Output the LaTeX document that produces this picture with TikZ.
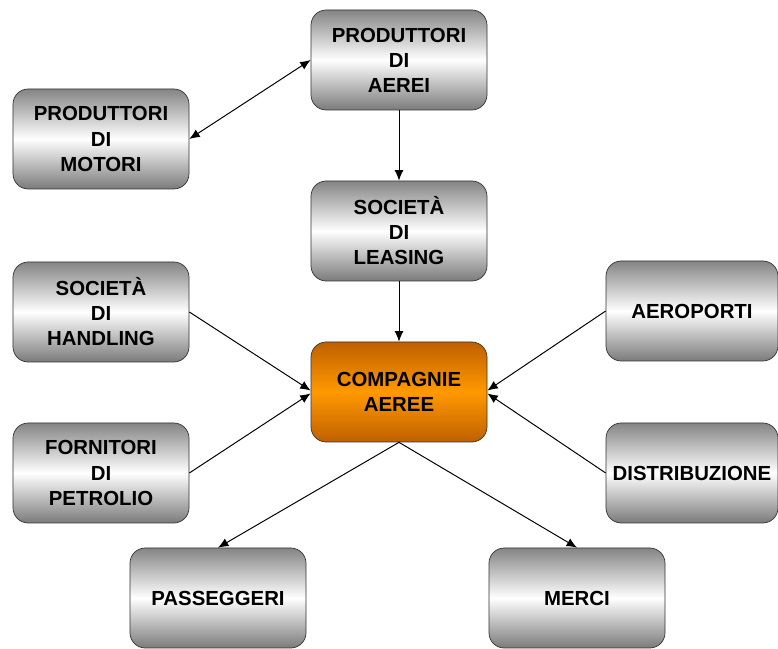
\documentclass[tikz,border=0pt]{standalone}
\usepackage{fontspec}
\setmainfont{Liberation Sans}
\usetikzlibrary{arrows.meta}
\tikzset{
  box/.style={draw=black!80, line width=0.5pt, rounded corners=0.38cm,
    minimum width=4.4cm, minimum height=2.5cm, inner sep=2pt, align=center,
    top color=black!48, bottom color=black!52, middle color=white,
    font=\fontsize{14.5}{17.8}\selectfont\bfseries},
  mainbox/.style={box, top color=orange!75!black, bottom color=orange!75!black,
    middle color={rgb,255:red,255;green,153;blue,0}},
}
\begin{document}
\begin{tikzpicture}
      \useasboundingbox (0,0) rectangle (19.45,16.225);
      \draw
        (9.975,14.725) node[box] (aerei){PRODUTTORI\\DI\\AEREI}
        (2.525,12.75) node[box] (motori){PRODUTTORI\\DI\\MOTORI}
        (9.975,10.45) node[box] (leasing){SOCIETÀ\\DI\\LEASING}
        (2.525,8.425) node[box] (handling){SOCIETÀ\\DI\\HANDLING}
        (9.975,6.425) node[mainbox] (compagnie){COMPAGNIE\\AEREE}
        (17.3,8.45) node[box, minimum width=4.3cm] (aeroporti){AEROPORTI}
        (2.525,4.4) node[box] (petrolio){FORNITORI\\DI\\PETROLIO}
        (17.3,4.4) node[box, minimum width=4.3cm] (distribuzione){DISTRIBUZIONE}
        (5.45,1.275) node[box] (passeggeri){PASSEGGERI}
        (14.425,1.275) node[box] (merci){MERCI};
      \begin{scope}[-{Latex[length=2.6mm,width=2.2mm]}, line width=0.7pt]
        \draw[{Latex[length=2.6mm,width=2.2mm]}-{Latex[length=2.6mm,width=2.2mm]}] (motori.east) to (aerei.west);
        \draw (aerei) to (leasing);
        \draw (leasing) to (compagnie);
        \draw (handling.east) to ([yshift=1pt]compagnie.west);
        \draw (petrolio.east) to ([yshift=-1pt]compagnie.west);
        \draw (aeroporti.west) to ([yshift=1pt]compagnie.east);
        \draw (distribuzione.west) to ([yshift=-1pt]compagnie.east);
        \draw (compagnie.south) to (passeggeri.north);
        \draw (compagnie.south) to (merci.north);
      \end{scope}
    \end{tikzpicture}
\end{document}
